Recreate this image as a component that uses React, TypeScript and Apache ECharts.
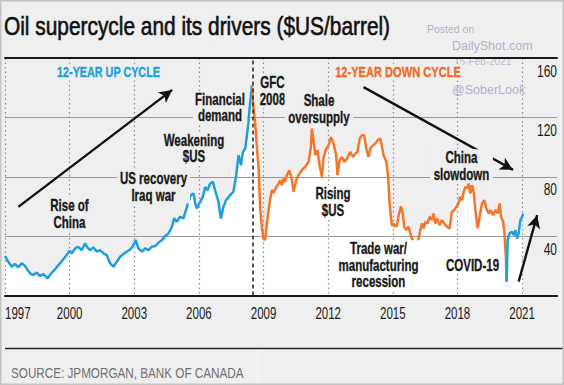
import React, { useEffect, useRef } from "react";
import * as echarts from "echarts";

const START_YEAR = 1997;
const xTickYears = [1997, 2000, 2003, 2006, 2009, 2012, 2015, 2018, 2021];
const yTickValues = [40, 80, 120, 160];

const upYears = [
  1997.0, 1997.15, 1997.31, 1997.46, 1997.62, 1997.78, 1997.93, 1998.16, 1998.31, 1998.47,
  1998.63, 1998.78, 1998.97, 1999.12, 1999.27, 1999.48, 1999.68, 1999.83, 1999.99, 2000.1,
  2000.25, 2000.4, 2000.56, 2000.72, 2000.82, 2000.95, 2001.1, 2001.26, 2001.41, 2001.57,
  2001.72, 2001.88, 2002.03, 2002.19, 2002.34, 2002.5, 2002.65, 2002.81, 2002.96, 2003.07,
  2003.19, 2003.35, 2003.5, 2003.66, 2003.81, 2003.97, 2004.12, 2004.28, 2004.43, 2004.59,
  2004.74, 2004.85, 2004.97, 2005.13, 2005.28, 2005.41, 2005.51, 2005.62, 2005.75, 2005.83,
  2005.9, 2006.06, 2006.18, 2006.29, 2006.4, 2006.52, 2006.65, 2006.75, 2006.91, 2007.02,
  2007.14, 2007.26, 2007.45, 2007.6, 2007.73, 2007.84, 2007.95, 2008.04, 2008.15, 2008.23,
  2008.3, 2008.38, 2008.46,
];
const upPrices = [
  26.6, 22.7, 19.4, 21.2, 19.0, 21.7, 19.8, 14.9, 13.8, 15.4,
  13.1, 14.5, 11.5, 14.5, 16.7, 20.5, 23.9, 26.6, 30.1, 28.4,
  31.7, 32.8, 30.6, 35.1, 32.4, 30.6, 32.4, 29.5, 30.6, 28.4,
  27.2, 21.6, 19.4, 22.7, 26.1, 27.9, 29.5, 31.0, 33.9, 37.3,
  31.7, 29.5, 31.7, 30.6, 32.8, 33.3, 35.5, 37.3, 40.0, 41.8,
  46.0, 52.0, 49.6, 53.0, 52.0, 58.0, 63.0, 67.6, 68.7, 62.0,
  58.6, 63.1, 66.4, 73.1, 70.9, 75.4, 76.5, 70.9, 63.1, 51.9,
  59.7, 64.2, 67.6, 69.8, 81.0, 94.5, 87.7, 96.7, 99.0, 107.9,
  116.8, 130.3, 141.5,
];

const downYears = [
  2008.46, 2008.53, 2008.61, 2008.69, 2008.77, 2008.84, 2008.92, 2009.0, 2009.06, 2009.1,
  2009.15, 2009.23, 2009.31, 2009.39, 2009.46, 2009.59, 2009.7, 2009.77, 2009.85, 2009.93,
  2010.0, 2010.08, 2010.2, 2010.32, 2010.39, 2010.52, 2010.62, 2010.78, 2010.93, 2011.09,
  2011.2, 2011.24, 2011.32, 2011.4, 2011.51, 2011.6, 2011.71, 2011.79, 2011.91, 2012.02,
  2012.13, 2012.25, 2012.37, 2012.43, 2012.53, 2012.64, 2012.75, 2012.87, 2013.02, 2013.15,
  2013.26, 2013.36, 2013.46, 2013.57, 2013.67, 2013.77, 2013.87, 2013.95, 2014.08, 2014.19,
  2014.29, 2014.42, 2014.5, 2014.57, 2014.7, 2014.78, 2014.85, 2014.91, 2014.96, 2015.04,
  2015.11, 2015.19, 2015.27, 2015.38, 2015.46, 2015.53, 2015.63, 2015.73, 2015.81, 2015.89,
  2015.97, 2016.04, 2016.15, 2016.24, 2016.35, 2016.43, 2016.51, 2016.61, 2016.71, 2016.82,
  2016.89, 2016.97, 2017.05, 2017.17, 2017.28, 2017.39, 2017.51, 2017.64, 2017.74, 2017.85,
  2017.95, 2018.05, 2018.13, 2018.21, 2018.29, 2018.37, 2018.44, 2018.52, 2018.6, 2018.68,
  2018.75, 2018.83, 2018.94, 2019.03, 2019.14, 2019.25, 2019.34, 2019.45, 2019.53, 2019.65,
  2019.76, 2019.87, 2019.96, 2020.02, 2020.12, 2020.18, 2020.24, 2020.28,
];
const downPrices = [
  141.5, 127.0, 116.0, 100.0, 86.0, 60.0, 46.0, 38.0, 37.5, 40.0,
  48.0, 57.0, 65.0, 71.0, 69.0, 73.0, 75.4, 77.6, 74.3, 78.8,
  76.5, 81.0, 84.4, 77.6, 70.0, 77.6, 81.0, 84.4, 86.6, 90.0,
  100.1, 112.4, 104.5, 94.5, 97.8, 87.7, 79.9, 93.3, 98.9, 101.2,
  106.8, 102.3, 94.5, 81.0, 91.1, 93.3, 90.0, 92.2, 96.7, 93.3,
  95.6, 96.7, 105.7, 107.9, 107.9, 98.9, 93.3, 98.9, 101.2, 102.3,
  104.5, 105.7, 100.1, 94.5, 90.0, 80.0, 62.0, 53.0, 47.0, 48.5,
  46.5, 47.0, 54.0, 60.0, 55.0, 46.3, 44.0, 46.3, 41.8, 38.4,
  35.1, 28.4, 35.1, 41.8, 48.5, 45.2, 49.6, 48.5, 53.0, 50.8,
  55.2, 48.5, 51.9, 47.4, 50.8, 48.5, 46.3, 45.2, 56.3, 57.5,
  59.7, 62.0, 66.4, 64.2, 69.8, 73.1, 72.1, 75.4, 68.7, 74.3,
  69.8, 57.5, 45.2, 53.0, 62.0, 64.2, 58.6, 55.2, 57.5, 54.1,
  57.5, 55.2, 62.0, 53.0, 49.6, 41.8, 28.4, 9.3,
];

const recoveryYears = [2020.28, 2020.33, 2020.42, 2020.53, 2020.61, 2020.69, 2020.77, 2020.84, 2020.92, 2021.0, 2021.05];
const recoveryPrices = [9.3, 37.3, 41.8, 42.9, 40.7, 44.0, 38.4, 41.8, 50.8, 53.0, 55.2];

// annotation arrows: [startYear, startPrice, endYear, endPrice]
const arrowUpCycle = [1997.62, 59.7, 2004.76, 138.5];
const arrowDownCycle = [2013.64, 140.4, 2020.58, 84.6];
const arrowRecovery = [2020.84, 9.3, 2021.7, 54.1];
const gfcYear = 2008.5;

const BLUE = "#1c9fdb";
const ORANGE = "#f2772b";
const BG = "#efefef";
const SANS = '"Liberation Sans", Arial, sans-serif';

const toPoints = (years: number[], prices: number[]) =>
  years.map((y, i) => [y - START_YEAR, prices[i]]);

const arrowLine = (a: number[]) => [
  { coord: [a[0] - START_YEAR, a[1]], symbol: "none" },
  { coord: [a[2] - START_YEAR, a[3]], symbol: "arrow" },
];

type LabelOpts = { bg?: string; pad?: number[]; sx?: number; lh?: number; color?: string; size?: number };
const label = (text: string, x: number, y: number, o: LabelOpts = {}) => ({
  type: "text",
  x,
  y,
  z: 100,
  scaleX: o.sx ?? 0.72,
  silent: true,
  style: {
    text,
    fill: o.color ?? "#1a1a1a",
    font: `bold ${o.size ?? 16}px ${SANS}`,
    align: "center",
    verticalAlign: "middle",
    lineHeight: o.lh ?? 16.5,
    backgroundColor: o.bg,
    padding: o.pad ?? [0, 0],
    stroke: o.color ?? "#1a1a1a",
    lineWidth: 0.35,
  },
});

export default function App() {
  const ref = useRef<HTMLDivElement>(null);

  useEffect(() => {
    const chart = echarts.init(ref.current!, undefined, { renderer: "svg" });
    const up = toPoints(upYears, upPrices);
    const down = toPoints(downYears, downPrices);
    const rec = toPoints(recoveryYears, recoveryPrices);
    const all = [...up, ...down, ...rec];
    const xMax = 25.62;

    const option: any = {
      animation: false,
      backgroundColor: BG,
      grid: { left: 5, right: 7, top: 58, bottom: 89.5, containLabel: false },
      xAxis: [
        {
          type: "value",
          min: 0,
          max: xMax,
          interval: 3,
          axisLine: { show: true, lineStyle: { color: "#1a1a1a", width: 2 } },
          axisTick: { show: false },
          axisLabel: { show: false },
          splitLine: {
            show: true,
            showMaxLine: false,
            lineStyle: { color: "#8a8a8a", width: 1.2, type: [1.5, 3] },
          },
        },
        {
          type: "value",
          position: "top",
          min: 0,
          max: xMax,
          axisLine: { show: true, onZero: false, lineStyle: { color: "#1a1a1a", width: 2 } },
          axisTick: { show: false },
          axisLabel: { show: false },
          splitLine: { show: false },
        },
      ],
      yAxis: {
        type: "value",
        position: "right",
        min: 0,
        max: 160,
        interval: 40,
        axisLine: { show: false },
        axisTick: { show: false },
        axisLabel: { show: false },
        splitLine: { show: true, lineStyle: { color: "#9a9a9a", width: 1.1 } },
      },
      series: [
        {
          type: "line",
          data: all,
          showSymbol: false,
          silent: true,
          z: -1,
          lineStyle: { width: 0, opacity: 0 },
          areaStyle: { color: "#ffffff", opacity: 1 },
        },
        {
          type: "line",
          data: up,
          showSymbol: false,
          silent: true,
          z: 3,
          lineStyle: { color: BLUE, width: 2.5 },
          markLine: {
            silent: true,
            symbol: ["none", "none"],
            label: { show: false },
            lineStyle: { color: "#222", width: 1.5, type: [4, 3] },
            data: [{ xAxis: gfcYear - START_YEAR }],
          },
        },
        {
          type: "line",
          data: down,
          showSymbol: false,
          silent: true,
          z: 3,
          lineStyle: { color: ORANGE, width: 2.5 },
        },
        {
          type: "line",
          data: rec,
          showSymbol: false,
          silent: true,
          z: 3,
          lineStyle: { color: BLUE, width: 2.5 },
          markLine: {
            silent: true,
            symbolSize: [10, 13],
            label: { show: false },
            lineStyle: { color: "#111", width: 2.4, type: "solid" },
            data: [arrowLine(arrowUpCycle), arrowLine(arrowDownCycle), arrowLine(arrowRecovery)],
          },
        },
      ],
    };

    chart.setOption(option);

    // tick labels placed through the axes' own scales
    const gridLeft = chart.convertToPixel({ xAxisIndex: 0 }, 0) as number;
    const gridRight = chart.convertToPixel({ xAxisIndex: 0 }, xMax) as number;
    const gridBottom = chart.convertToPixel({ yAxisIndex: 0 }, 0) as number;
    const xLabels = xTickYears.map((yr, i) => ({
      type: "text",
      x: i === 0 ? gridLeft : (chart.convertToPixel({ xAxisIndex: 0 }, yr - START_YEAR) as number),
      y: gridBottom + 17.5,
      z: 100,
      scaleX: 0.72,
      silent: true,
      style: {
        text: String(yr),
        fill: "#1a1a1a",
        font: `16px ${SANS}`,
        align: i === 0 ? "left" : "center",
        verticalAlign: "middle",
      },
    }));
    const yLabels = yTickValues.map((v) => ({
      type: "text",
      x: gridRight,
      y: (chart.convertToPixel({ yAxisIndex: 0 }, v) as number) + 13,
      z: 100,
      scaleX: 0.75,
      silent: true,
      style: {
        text: String(v),
        fill: "#1a1a1a",
        font: `16px ${SANS}`,
        align: "right",
        verticalAlign: "middle",
      },
    }));

    const wm = "rgba(150,150,190,0.72)";
    chart.setOption({
      graphic: [
        {
          type: "rect",
          z: 200,
          silent: true,
          shape: { x: 0.75, y: 0.75, width: 562.5, height: 383.5 },
          style: { fill: "none", stroke: "#c4c4c4", lineWidth: 1.5 },
        },
        {
          type: "text",
          x: 4,
          y: 26,
          z: 100,
          scaleX: 0.835,
          silent: true,
          style: {
            text: "Oil supercycle and its drivers ($US/barrel)",
            fill: "#111",
            font: `25px ${SANS}`,
            align: "left",
            verticalAlign: "middle",
            stroke: "#111",
            lineWidth: 0.6,
          },
        },
        { type: "line", z: 100, silent: true, shape: { x1: 5, y1: 348.5, x2: 564, y2: 348.5 }, style: { stroke: "#2a2a2a", lineWidth: 1.5 } },
        { type: "line", z: 100, silent: true, shape: { x1: 258, y1: 350, x2: 258, y2: 384 }, style: { stroke: "#f8f8f8", lineWidth: 1 } },
        {
          type: "text",
          x: 11,
          y: 373,
          z: 100,
          scaleX: 0.78,
          silent: true,
          style: {
            text: "SOURCE: JPMORGAN, BANK OF CANADA",
            fill: "#707070",
            font: `15px ${SANS}`,
            align: "left",
            verticalAlign: "middle",
          },
        },
        ...xLabels,
        ...yLabels,
        label("12-YEAR UP CYCLE", 108.5, 72, { color: BLUE, size: 15, sx: 0.72, bg: BG, pad: [0, 2] }),
        label("12-YEAR DOWN CYCLE", 398, 72, { color: "#f06a25", size: 15, sx: 0.74, bg: BG, pad: [0, 2] }),
        label("GFC\n2008", 272.5, 90.5, { bg: BG, pad: [0, 0], lh: 17.5 }),
        label("Financial\ndemand", 220, 107.4, { bg: BG, pad: [0, 3] }),
        label("Weakening\n$US", 194, 148.3, { bg: BG, pad: [0, 2] }),
        label("US recovery\nIraq war", 153.5, 187, { bg: BG, pad: [0, 4] }),
        label("Rise of\nChina", 69.5, 213.8, { bg: BG, pad: [0, 2] }),
        label("Shale\noversupply", 319, 109, { bg: BG, pad: [0, 5] }),
        label("Rising\n$US", 333, 201.7, { bg: "#ffffff", pad: [0, 2] }),
        label("Trade war/\nmanufacturing\nrecession", 378.5, 265, { bg: "#ffffff", pad: [0, 2] }),
        label("China\nslowdown", 461.5, 165.8, { bg: BG, pad: [0, 5] }),
        label("COVID-19", 472.5, 265, { bg: "#ffffff", pad: [0, 1] }),
        {
          type: "group",
          z: 150,
          silent: true,
          children: [
            { type: "text", x: 427, y: 29, style: { text: "Posted on", fill: wm, font: `10.5px ${SANS}`, align: "left", verticalAlign: "middle" } },
            { type: "text", x: 452, y: 46, style: { text: "DailyShot.com", fill: wm, font: `12.5px ${SANS}`, align: "left", verticalAlign: "middle" } },
            { type: "text", x: 454, y: 61, style: { text: "15-Feb-2021", fill: "rgba(150,150,190,0.6)", font: `10px ${SANS}`, align: "left", verticalAlign: "middle" } },
            { type: "text", x: 452, y: 90, style: { text: "@SoberLook", fill: wm, font: `12.5px ${SANS}`, align: "left", verticalAlign: "middle" } },
          ],
        },
      ],
    });

    return () => chart.dispose();
  }, []);

  return <div ref={ref} style={{ position: "fixed", left: 0, top: 0, width: 564, height: 385 }} />;
}
